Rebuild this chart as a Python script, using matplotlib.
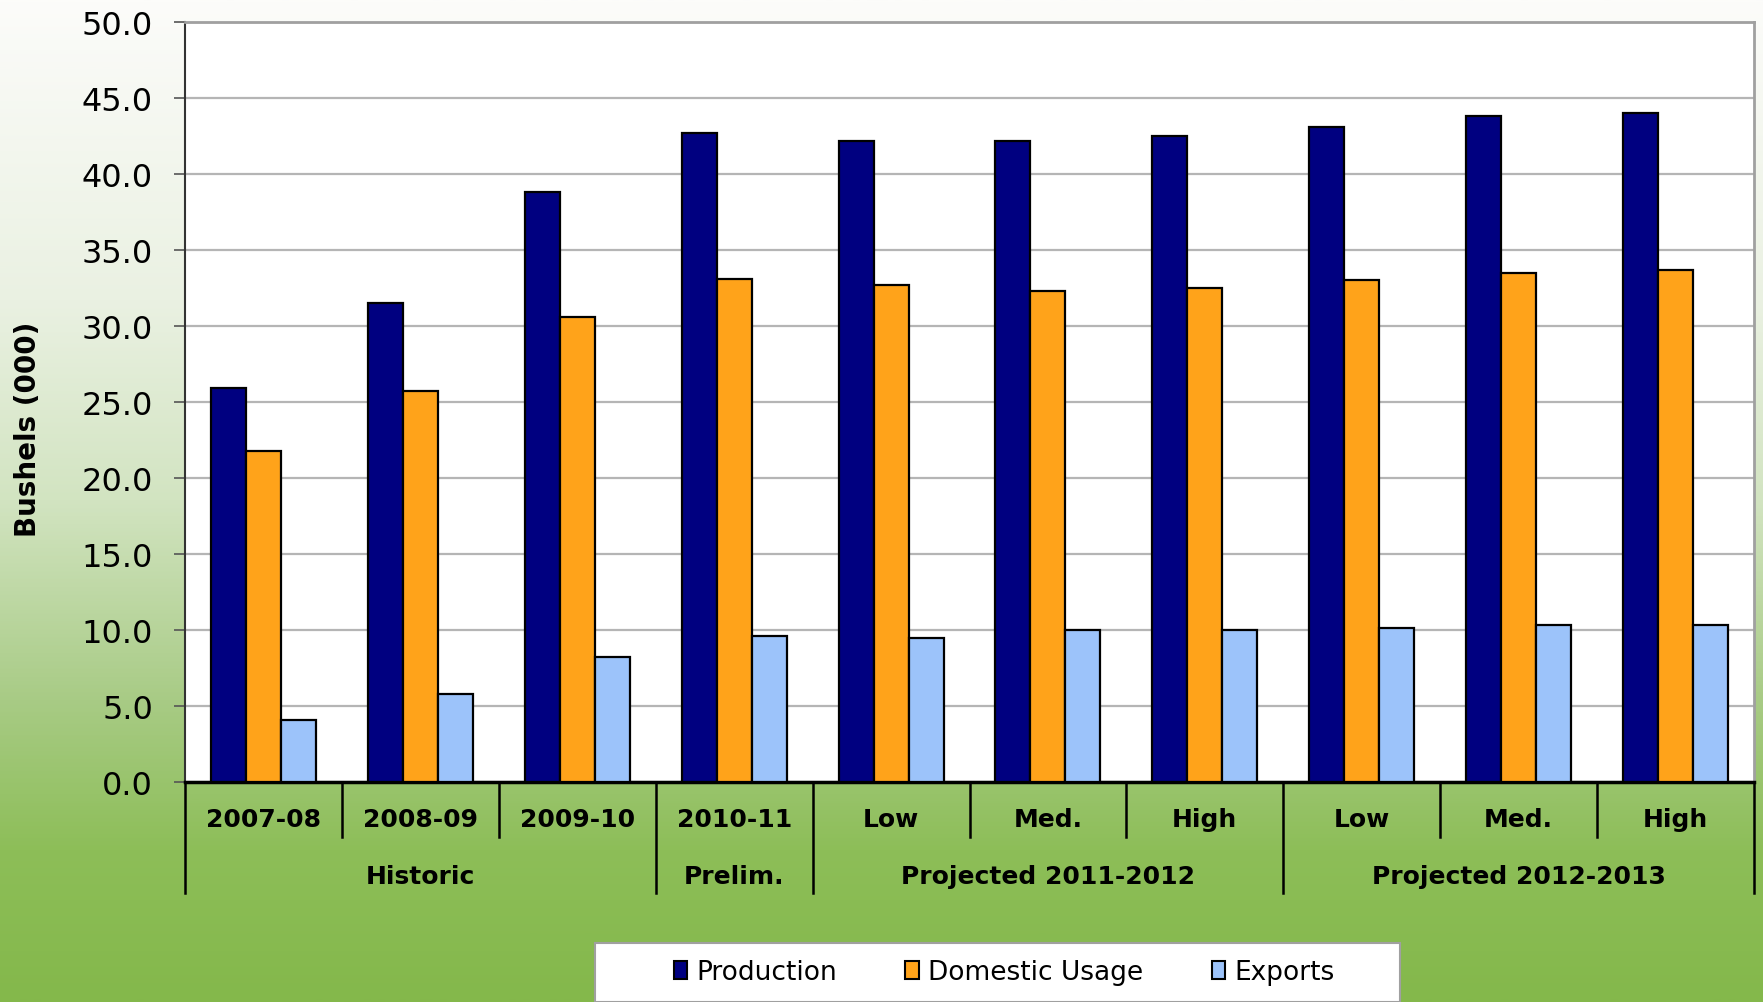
import numpy as np
import matplotlib
matplotlib.use("Agg")
import matplotlib.pyplot as plt
from matplotlib.colors import LinearSegmentedColormap
from matplotlib.patches import Rectangle, Patch
import matplotlib.transforms as mtransforms

# ---- data ----
categories = ["2007-08", "2008-09", "2009-10", "2010-11", "Low", "Med.", "High", "Low", "Med.", "High"]
groups = ["Historic", "Prelim.", "Projected 2011-2012", "Projected 2012-2013"]
group_sizes = [3, 1, 3, 3]
production = [25.9, 31.5, 38.8, 42.7, 42.2, 42.2, 42.5, 43.1, 43.8, 44.0]
domestic = [21.8, 25.7, 30.6, 33.1, 32.7, 32.3, 32.5, 33.0, 33.5, 33.7]
exports = [4.1, 5.8, 8.2, 9.6, 9.5, 10.0, 10.0, 10.1, 10.3, 10.3]
series_names = ["Production", "Domestic Usage", "Exports"]
yticks = [0, 5, 10, 15, 20, 25, 30, 35, 40, 45, 50]

colors = ["#000080", "#FFA31A", "#9CC3FA"]
FONT = "DejaVu Sans"

fig = plt.figure(figsize=(17.63, 10.03), dpi=100)

# background gradient
bg = fig.add_axes([0, 0, 1, 1], zorder=-10)
cmap = LinearSegmentedColormap.from_list("g", [
    (0.0, "#FCFCFA"), (0.3, "#EAF1E2"), (0.5, "#D2E4C1"),
    (0.7, "#A8CB85"), (0.85, "#8DBE58"), (1.0, "#84B84B")])
grad = np.linspace(0, 1, 512).reshape(-1, 1)
bg.imshow(grad, aspect="auto", cmap=cmap, extent=[0, 1, 0, 1], origin="upper")
bg.set_axis_off()

ax = fig.add_axes([185/1763, 1-783/1003, 1569/1763, 760/1003])
ax.set_facecolor("white")

x = np.arange(len(categories))
w = 0.223
for i, (vals, c, name) in enumerate(zip([production, domestic, exports], colors, series_names)):
    ax.bar(x + (i - 1) * w, vals, width=w, color=c, edgecolor="black", linewidth=1.6,
           zorder=3, label=name)

ax.set_xlim(-0.5, len(categories) - 0.5)
ax.set_ylim(0, 50)
ax.set_yticks(yticks)
ax.set_yticklabels([f"{v:.1f}" for v in yticks], fontsize=23, family=FONT)
ax.tick_params(axis="y", length=8, width=1.2, pad=15, color="#555555")
ax.set_xticks([])
ax.yaxis.grid(True, color="#B5B5B5", linewidth=1.6, zorder=0)
ax.set_axisbelow(True)

for s in ["top", "right"]:
    ax.spines[s].set_color("#A0A0A0")
    ax.spines[s].set_linewidth(2)
ax.spines["left"].set_color("#333333")
ax.spines["left"].set_linewidth(1.5)
ax.spines["bottom"].set_color("black")
ax.spines["bottom"].set_linewidth(2.5)

ax.set_ylabel("Bushels (000)", fontsize=20, fontweight="bold", family=FONT)
ax.yaxis.label.set_va("center")
ax.yaxis.set_label_coords(-157/1569, 0.465)

trans = mtransforms.blended_transform_factory(ax.transData, ax.transAxes)
lvl1_bot = -55/760
lvl2_bot = -111/760
lvl1_y = -37/760
lvl2_y = -94/760

# group boundaries
bounds = [-0.5]
for gs in group_sizes:
    bounds.append(bounds[-1] + gs)

for b in np.arange(-0.5, len(categories), 1.0):
    bottom = lvl2_bot if any(abs(b - gb) < 1e-9 for gb in bounds) else lvl1_bot
    ax.plot([b, b], [0, bottom], transform=trans, color="black", lw=1.8, clip_on=False)

for xi, lab in zip(x, categories):
    ax.text(xi, lvl1_y, lab, transform=trans, ha="center", va="center",
            fontsize=18, fontweight="bold", family=FONT)

for gi, g in enumerate(groups):
    cx = (bounds[gi] + bounds[gi + 1]) / 2
    ax.text(cx, lvl2_y, g, transform=trans, ha="center", va="center",
            fontsize=18, fontweight="bold", family=FONT)

# legend box
fig.patches.append(Rectangle((595/1763, 0), 805/1763, 59/1003, transform=fig.transFigure,
                             facecolor="white", edgecolor="#A0A0A0", lw=1.5, zorder=1))
handles = [Patch(facecolor=c, edgecolor="black", linewidth=1.5) for c in colors]
leg = fig.legend(handles, series_names, loc="center", bbox_to_anchor=(1004/1763, 1-973/1003),
                 ncol=3, frameon=False, prop={"family": FONT, "size": 19},
                 handlelength=0.5, handleheight=0.65, handletextpad=0.35, columnspacing=2.6)
leg.set_zorder(5)

fig.savefig("out.png", dpi=100)
